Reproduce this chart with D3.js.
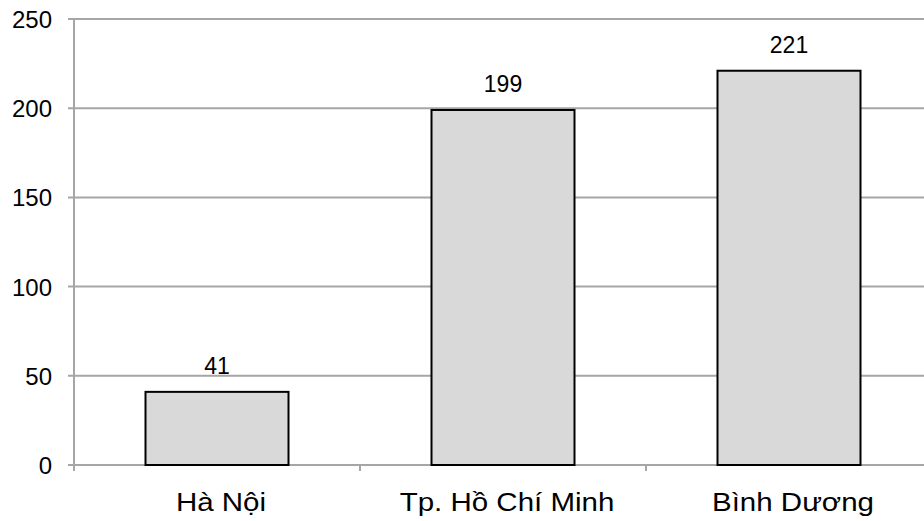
<!DOCTYPE html>
<html><head><meta charset="utf-8">
<script src="https://cdn.jsdelivr.net/npm/d3@7"></script>
<style>body{margin:0;background:#fff}svg{display:block}text{font-family:"Liberation Sans",Arial,sans-serif;fill:#000}</style>
</head><body><svg id="c" width="924" height="521"></svg>
<script>
const categories = ["Hà Nội", "Tp. Hồ Chí Minh", "Bình Dương"];
const values = [41, 199, 221];
const yTicks = [0, 50, 100, 150, 200, 250];

(function () {
const svg = d3.select("#c");
const mLeft = 74, mRight = 932, mTop = 19, mBottom = 465;
const x = d3.scaleBand().domain(categories).range([mLeft, mRight]).paddingInner(0).paddingOuter(0);
const y = d3.scaleLinear().domain([0, 250]).range([mBottom, mTop]);

svg.append("g").selectAll("line").data(yTicks).join("line")
  .attr("x1", mLeft - 6).attr("x2", 924)
  .attr("y1", d => y(d)).attr("y2", d => y(d))
  .attr("stroke", "#a6a6a6").attr("stroke-width", 2);
svg.append("line").attr("x1", mLeft).attr("x2", mLeft).attr("y1", mTop).attr("y2", mBottom + 6)
  .attr("stroke", "#a6a6a6").attr("stroke-width", 2);
svg.append("g").selectAll("text").data(yTicks).join("text")
  .attr("x", 52).attr("y", d => y(d) + 9)
  .attr("text-anchor", "end").style("font-size", "24px").text(d => d);
const boundaries = categories.slice(1).map(c => x(c));
svg.append("g").selectAll("line").data(boundaries).join("line")
  .attr("x1", d => d).attr("x2", d => d).attr("y1", mBottom).attr("y2", mBottom + 6)
  .attr("stroke", "#a6a6a6").attr("stroke-width", 2);
const bw = x.bandwidth() * 0.5;
svg.append("g").selectAll("rect").data(values).join("rect")
  .attr("x", (d, i) => x(categories[i]) + (x.bandwidth() - bw) / 2)
  .attr("width", bw)
  .attr("y", d => y(d)).attr("height", d => mBottom - y(d))
  .attr("fill", "#d9d9d9").attr("stroke", "#000").attr("stroke-width", 2);
svg.append("g").selectAll("text").data(values).join("text")
  .attr("x", (d, i) => x(categories[i]) + x.bandwidth() / 2)
  .attr("y", d => y(d) - 18)
  .attr("text-anchor", "middle").style("font-size", "23px").text(d => d);
svg.append("g").selectAll("text").data(categories).join("text")
  .attr("transform", d => `translate(${x(d) + x.bandwidth() / 2 + 4},511) scale(1.18,1)`)
  .attr("text-anchor", "middle").style("font-size", "25px").text(d => d);
})();
</script></body></html>
